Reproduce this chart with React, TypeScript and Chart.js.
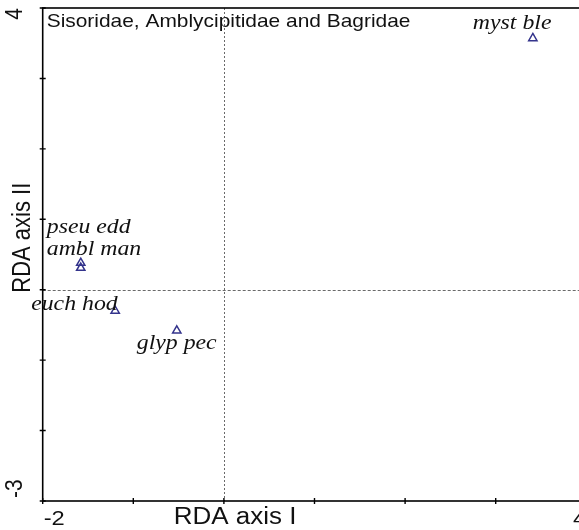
import React, { useEffect, useRef } from "react";
import { Chart, registerables } from "chart.js";

Chart.register(...registerables);

// RDA species scores
const species = ["myst ble", "pseu edd", "ambl man", "euch hod", "glyp pec"];
const rdaAxis1 = [3.41, -1.58, -1.58, -1.2, -0.52];
const rdaAxis2 = [3.57, 0.38, 0.31, -0.3, -0.58];

// axis extents and the end labels printed on them
const xRange = [-2, 4];
const yRange = [-3, 4];
const xTickLabels = ["-2", "4"];
const yTickLabels = ["-3", "4"];

const plotTitle = "Sisoridae, Amblycipitidae and Bagridae";
const xTitle = "RDA axis I";
const yTitle = "RDA axis II";

// where each species name sits relative to its marker (px, left baseline)
const labelOffsets: [number, number][] = [
  [-60, -9],
  [-34, -30],
  [-34, -13],
  [-84, -1],
  [-40, 18],
];

const SANS = '"Liberation Sans", Arial, sans-serif';
const SERIF = '"Liberation Serif", "Times New Roman", serif';
const WIDEN = 1.13;

function putText(
  ctx: CanvasRenderingContext2D,
  text: string,
  x: number,
  y: number,
  font: string,
  align: CanvasTextAlign,
  baseline: CanvasTextBaseline,
  rotate = false,
  widen = WIDEN
) {
  ctx.save();
  ctx.translate(x, y);
  ctx.scale(widen, 1);
  if (rotate) ctx.rotate(-Math.PI / 2);
  ctx.font = font;
  ctx.textAlign = align;
  ctx.textBaseline = baseline;
  ctx.fillStyle = "#111";
  ctx.fillText(text, 0, 0);
  ctx.restore();
}

const ordinationPlugin = {
  id: "ordination",
  beforeDatasetsDraw(chart: any) {
    const { ctx, chartArea: a, scales } = chart;
    const x0 = scales.x.getPixelForValue(0);
    const y0 = scales.y.getPixelForValue(0);
    ctx.save();
    ctx.strokeStyle = "#6a6a6a";
    ctx.lineWidth = 1;
    ctx.setLineDash([2, 2]);
    ctx.beginPath();
    ctx.moveTo(Math.round(x0) + 0.5, a.top);
    ctx.lineTo(Math.round(x0) + 0.5, a.bottom);
    ctx.stroke();
    ctx.setLineDash([3, 2]);
    ctx.beginPath();
    ctx.moveTo(a.left, Math.round(y0) + 0.5);
    ctx.lineTo(a.right, Math.round(y0) + 0.5);
    ctx.stroke();
    ctx.restore();
  },
  afterDatasetsDraw(chart: any) {
    const { ctx, chartArea: a, scales } = chart;
    const xs = scales.x;
    const ys = scales.y;

    // frame
    ctx.save();
    ctx.strokeStyle = "#000";
    ctx.lineWidth = 1.6;
    ctx.strokeRect(a.left, a.top, a.right - a.left, a.bottom - a.top);

    // tick marks crossing the axis lines
    ctx.lineWidth = 1.4;
    ctx.beginPath();
    for (const t of xs.ticks) {
      const px = xs.getPixelForValue(t.value);
      ctx.moveTo(px, a.bottom - 3);
      ctx.lineTo(px, a.bottom + 3);
    }
    for (const t of ys.ticks) {
      const py = ys.getPixelForValue(t.value);
      ctx.moveTo(a.left - 3, py);
      ctx.lineTo(a.left + 3, py);
    }
    ctx.stroke();
    ctx.restore();

    // end labels of the axes
    const tickFont = `21px ${SANS}`;
    putText(ctx, xTickLabels[0], xs.getPixelForValue(xRange[0]) + 1, a.bottom + 24, tickFont, "left", "alphabetic");
    putText(ctx, xTickLabels[1], xs.getPixelForValue(xRange[1]), a.bottom + 24, tickFont, "right", "alphabetic");
    putText(ctx, yTickLabels[0], 15, ys.getPixelForValue(yRange[0]) - 3, tickFont, "left", "middle", true);
    putText(ctx, yTickLabels[1], 15, ys.getPixelForValue(yRange[1]), tickFont, "right", "middle", true);

    // axis titles
    const w = a.right - a.left;
    const h = a.bottom - a.top;
    putText(ctx, xTitle, a.left + 0.354 * w, a.bottom + 23, `23px ${SANS}`, "center", "alphabetic");
    putText(ctx, yTitle, 23, a.top + 0.466 * h, `22px ${SANS}`, "center", "middle", true);

    // panel title
    putText(ctx, plotTitle, a.left + 4, a.top + 19, `18.5px ${SANS}`, "left", "alphabetic");

    // species names
    const meta = chart.getDatasetMeta(0);
    meta.data.forEach((pt: any, i: number) => {
      const [dx, dy] = labelOffsets[i];
      putText(ctx, species[i], pt.x + dx, pt.y + dy, `italic 20.5px ${SERIF}`, "left", "alphabetic", false, 1.16);
    });
  },
};

export default function App() {
  const canvasRef = useRef<HTMLCanvasElement | null>(null);

  useEffect(() => {
    if (!canvasRef.current) return;
    const chart = new Chart(canvasRef.current, {
      type: "scatter",
      data: {
        datasets: [
          {
            label: "species",
            data: rdaAxis1.map((x, i) => ({ x, y: rdaAxis2[i] })),
            pointStyle: "triangle",
            pointRadius: 4.8,
            pointHoverRadius: 4.8,
            borderColor: "#34348c",
            backgroundColor: "rgba(0,0,0,0)",
            borderWidth: 1.5,
          },
        ],
      },
      options: {
        responsive: false,
        animation: false,
        events: [],
        layout: { padding: { left: 42.7, right: 13.7, top: 8, bottom: 29 } },
        plugins: {
          legend: { display: false },
          tooltip: { enabled: false },
        },
        scales: {
          x: {
            type: "linear",
            display: false,
            min: xRange[0],
            max: xRange[1],
            ticks: { stepSize: 1 },
          },
          y: {
            type: "linear",
            display: false,
            min: yRange[0],
            max: yRange[1],
            ticks: { stepSize: 1 },
          },
        },
      },
      plugins: [ordinationPlugin],
    });
    return () => chart.destroy();
  }, []);

  return (
    <div
      style={{
        position: "fixed",
        left: 0,
        top: 0,
        width: 579,
        height: 530,
        overflow: "hidden",
        background: "#fff",
      }}
    >
      <canvas ref={canvasRef} width={600} height={530} style={{ width: 600, height: 530, display: "block" }} />
    </div>
  );
}
